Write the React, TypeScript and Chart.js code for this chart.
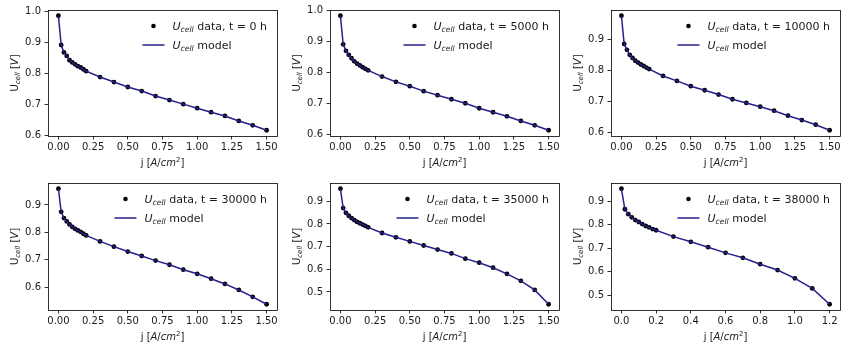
import React, { useEffect, useRef } from "react";
import { Chart, registerables } from "chart.js";

Chart.register(...registerables);

// ---------------- data ----------------
const jStd = [0, 0.02, 0.04, 0.06, 0.08, 0.1, 0.12, 0.14, 0.16, 0.18, 0.2, 0.3, 0.4, 0.5, 0.6, 0.7, 0.8, 0.9, 1.0, 1.1, 1.2, 1.3, 1.4, 1.5];
const j38000 = [0, 0.02, 0.04, 0.06, 0.08, 0.1, 0.12, 0.14, 0.16, 0.18, 0.2, 0.3, 0.4, 0.5, 0.6, 0.7, 0.8, 0.9, 1.0, 1.1, 1.2];

const u0h = [0.986, 0.892, 0.868, 0.857, 0.843, 0.836, 0.83, 0.824, 0.82, 0.814, 0.808, 0.789, 0.773, 0.757, 0.744, 0.728, 0.715, 0.702, 0.689, 0.676, 0.664, 0.648, 0.634, 0.618];
const u5000h = [0.982, 0.89, 0.869, 0.856, 0.845, 0.835, 0.828, 0.822, 0.816, 0.811, 0.806, 0.786, 0.769, 0.755, 0.739, 0.726, 0.713, 0.7, 0.684, 0.671, 0.658, 0.643, 0.629, 0.613];
const u10000h = [0.975, 0.884, 0.865, 0.849, 0.839, 0.83, 0.824, 0.818, 0.813, 0.808, 0.803, 0.781, 0.765, 0.748, 0.735, 0.721, 0.706, 0.694, 0.682, 0.669, 0.653, 0.639, 0.624, 0.606];
const u30000h = [0.959, 0.875, 0.852, 0.84, 0.829, 0.82, 0.813, 0.807, 0.802, 0.795, 0.789, 0.767, 0.748, 0.73, 0.714, 0.697, 0.682, 0.664, 0.649, 0.631, 0.612, 0.59, 0.565, 0.538];
const u35000h = [0.955, 0.87, 0.849, 0.836, 0.826, 0.817, 0.809, 0.803, 0.797, 0.791, 0.785, 0.76, 0.741, 0.723, 0.705, 0.687, 0.67, 0.647, 0.629, 0.607, 0.58, 0.549, 0.509, 0.446];
const u38000h = [0.952, 0.865, 0.844, 0.831, 0.819, 0.811, 0.802, 0.794, 0.788, 0.781, 0.776, 0.749, 0.727, 0.704, 0.68, 0.659, 0.632, 0.607, 0.572, 0.529, 0.462];

const hours = [0, 5000, 10000, 30000, 35000, 38000];
const xValues = [jStd, jStd, jStd, jStd, jStd, j38000];
const yValues = [u0h, u5000h, u10000h, u30000h, u35000h, u38000h];
const xTickSteps = [0.25, 0.25, 0.25, 0.25, 0.25, 0.2];
const xTickDecimals = [2, 2, 2, 2, 2, 1];
const yTickStep = 0.1;

// ---------------- text ----------------
type Seg = { t: string; it?: boolean; sub?: boolean; sup?: boolean };
const dataLabel = (h: number): Seg[] => [
  { t: "U", it: true },
  { t: "cell", it: true, sub: true },
  { t: ` data, t = ${h} h` },
];
const modelLabel: Seg[] = [
  { t: "U", it: true },
  { t: "cell", it: true, sub: true },
  { t: " model" },
];
const yTitle: Seg[] = [
  { t: "U" },
  { t: "cell", it: true, sub: true },
  { t: " [" },
  { t: "V", it: true },
  { t: "]" },
];
const xTitle: Seg[] = [
  { t: "j [" },
  { t: "A", it: true },
  { t: "/" },
  { t: "cm", it: true },
  { t: "2", sup: true },
  { t: "]" },
];

// ---------------- layout ----------------
const FONT = '"DejaVu Sans", sans-serif';
const TEXT_COLOR = "#1a1a1a";
const LINE_COLOR = "#24218a";
const panelLefts = [48, 330, 611];
const panelTops = [10, 183];
const panelHeights = [126, 127];
const panelWidth = 229;
const AX_W = 48;
const AX_H = 42;
const PAD_T = 10;
const PAD_R = 8;

function segFont(s: Seg, size: number) {
  const sz = s.sub || s.sup ? size * 0.7 : size;
  return `${s.it ? "italic " : ""}${sz}px ${FONT}`;
}
function richWidth(ctx: CanvasRenderingContext2D, segs: Seg[], size: number) {
  let w = 0;
  for (const s of segs) {
    ctx.font = segFont(s, size);
    w += ctx.measureText(s.t).width;
  }
  return w;
}
function drawRich(ctx: CanvasRenderingContext2D, segs: Seg[], x: number, y: number, size: number) {
  let cx = x;
  ctx.textBaseline = "alphabetic";
  ctx.textAlign = "left";
  for (const s of segs) {
    ctx.font = segFont(s, size);
    const dy = s.sub ? size * 0.22 : s.sup ? -size * 0.42 : 0;
    ctx.fillText(s.t, cx, y + dy);
    cx += ctx.measureText(s.t).width;
  }
}

function makeDecor(hour: number) {
  return {
    id: "decor",
    afterDraw(chart: any) {
      const ctx: CanvasRenderingContext2D = chart.ctx;
      const a = chart.chartArea;
      ctx.save();
      // frame
      ctx.strokeStyle = "#000";
      ctx.lineWidth = 0.8;
      ctx.strokeRect(Math.round(a.left) + 0.5, Math.round(a.top) + 0.5, Math.round(a.right - a.left), Math.round(a.bottom - a.top));
      ctx.fillStyle = TEXT_COLOR;
      // x title
      const size = 10;
      const xw = richWidth(ctx, xTitle, size);
      drawRich(ctx, xTitle, (a.left + a.right) / 2 - xw / 2, a.bottom + 30, size);
      // y title
      const yw = richWidth(ctx, yTitle, size);
      ctx.save();
      ctx.translate(a.left - 34, (a.top + a.bottom) / 2);
      ctx.rotate(-Math.PI / 2);
      drawRich(ctx, yTitle, -yw / 2, 0.35 * size, size);
      ctx.restore();
      // legend
      const lsize = 11;
      const l1 = dataLabel(hour);
      const tw = Math.max(richWidth(ctx, l1, lsize), richWidth(ctx, modelLabel, lsize));
      const textX = a.right - 10 - tw;
      const hEnd = textX - 8;
      const hStart = hEnd - 22;
      const row1 = a.top + 16;
      const row2 = a.top + 35;
      ctx.fillStyle = "#000";
      ctx.beginPath();
      ctx.arc((hStart + hEnd) / 2, row1, 2.3, 0, Math.PI * 2);
      ctx.fill();
      ctx.strokeStyle = LINE_COLOR;
      ctx.lineWidth = 1.5;
      ctx.beginPath();
      ctx.moveTo(hStart, row2);
      ctx.lineTo(hEnd, row2);
      ctx.stroke();
      ctx.fillStyle = TEXT_COLOR;
      drawRich(ctx, l1, textX, row1 + 0.36 * lsize, lsize);
      drawRich(ctx, modelLabel, textX, row2 + 0.36 * lsize, lsize);
      ctx.restore();
    },
  };
}

function rangeWithMargin(vals: number[]) {
  const mn = Math.min(...vals);
  const mx = Math.max(...vals);
  const m = (mx - mn) * 0.05;
  return [mn - m, mx + m];
}

function Panel({ idx }: { idx: number }) {
  const ref = useRef<HTMLCanvasElement>(null);
  const col = idx % 3;
  const row = Math.floor(idx / 3);
  const L = panelLefts[col];
  const T = panelTops[row];
  const H = panelHeights[row];
  const cw = panelWidth + AX_W + PAD_R;
  const ch = H + PAD_T + AX_H;
  useEffect(() => {
    const xs = xValues[idx];
    const ys = yValues[idx];
    const pts = xs.map((x, i) => ({ x, y: ys[i] }));
    const [xmin, xmax] = rangeWithMargin(xs);
    const [ymin, ymax] = rangeWithMargin(ys);
    const xd = xTickDecimals[idx];
    const tickFont = { family: FONT, size: 10 };
    const chart = new Chart(ref.current!, {
      type: "line",
      data: {
        datasets: [
          {
            label: "model",
            data: pts,
            borderColor: LINE_COLOR,
            borderWidth: 1.5,
            pointRadius: 0,
            fill: false,
            tension: 0,
            order: 0,
          },
          {
            label: "data",
            data: pts,
            showLine: false,
            pointRadius: 2.4,
            pointBackgroundColor: "#000",
            pointBorderWidth: 0,
            borderColor: "#000",
            order: 1,
          },
        ],
      },
      options: {
        animation: false,
        responsive: false,
        devicePixelRatio: 1,
        layout: { padding: { top: PAD_T, right: PAD_R, left: 0, bottom: 0 } },
        plugins: { legend: { display: false }, tooltip: { enabled: false } },
        events: [],
        scales: {
          x: {
            type: "linear",
            min: xmin,
            max: xmax,
            afterFit: (s: any) => {
              s.height = AX_H;
            },
            border: { display: false },
            grid: { drawOnChartArea: false, drawTicks: true, tickLength: 3.5, color: "#000", lineWidth: 0.8 },
            ticks: {
              stepSize: xTickSteps[idx],
              includeBounds: false,
              padding: 2,
              color: TEXT_COLOR,
              font: tickFont,
              maxRotation: 0,
              autoSkip: false,
              callback: (v: any) => Number(v).toFixed(xd),
            },
          },
          y: {
            type: "linear",
            min: ymin,
            max: ymax,
            afterFit: (s: any) => {
              s.width = AX_W;
            },
            border: { display: false },
            grid: { drawOnChartArea: false, drawTicks: true, tickLength: 3.5, color: "#000", lineWidth: 0.8 },
            ticks: {
              stepSize: yTickStep,
              includeBounds: false,
              padding: 3.5,
              color: TEXT_COLOR,
              font: tickFont,
              autoSkip: false,
              callback: (v: any) => Number(v).toFixed(1),
            },
          },
        },
      },
      plugins: [makeDecor(hours[idx])],
    } as any);
    return () => chart.destroy();
  }, [idx]);
  return (
    <canvas
      ref={ref}
      width={cw}
      height={ch}
      style={{ position: "absolute", left: L - AX_W, top: T - PAD_T, width: cw, height: ch }}
    />
  );
}

export default function App() {
  return (
    <div style={{ position: "absolute", left: 0, top: 0, width: 847, height: 352, background: "#fff", overflow: "hidden" }}>
      {hours.map((_, i) => (
        <Panel key={i} idx={i} />
      ))}
    </div>
  );
}
